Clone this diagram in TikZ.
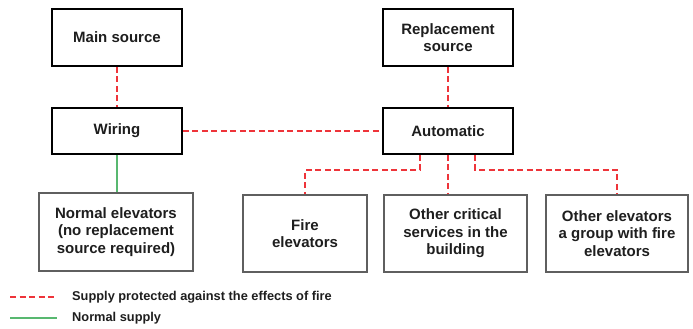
\documentclass[tikz,border=0pt]{standalone}
\usepackage{fontspec}
\setmainfont{Liberation Sans}
\usetikzlibrary{positioning,calc}
\definecolor{fwred}{RGB}{238,52,58}
\definecolor{fwgreen}{RGB}{88,184,112}
\definecolor{fwtext}{RGB}{30,30,30}
\definecolor{fwgray}{RGB}{95,95,95}

\begin{document}
\begin{tikzpicture}[x=1pt, y=-1pt,
  srcbox/.style={draw=black, line width=1.7pt, fill=white, text=fwtext,
    font=\fontsize{15}{17.5}\selectfont\bfseries, align=center, inner sep=0pt},
  loadbox/.style={draw=fwgray, line width=1.2pt, fill=white, text=fwtext,
    font=\fontsize{15}{17.5}\selectfont\bfseries, align=center, inner sep=0pt,
    minimum height=77pt},
  protline/.style={fwred, line width=1.5pt, dash pattern=on 6pt off 3.5pt},
  normline/.style={fwgreen, line width=1.4pt},
  legtext/.style={anchor=west, text=fwtext, font=\fontsize{12.8}{15}\selectfont\bfseries, inner sep=0pt}]
\useasboundingbox (0,0) rectangle (693,329);

% Sources and distribution
\node[srcbox, minimum width=130pt, minimum height=57pt] (main) at (117,37.5) {Main source};
\node[srcbox, minimum width=130pt, minimum height=46pt] (wiring) at (117,131) {Wiring};
\node[srcbox, minimum width=130pt, minimum height=57pt] (repl) at (448,37.5) {Replacement\\source};
\node[srcbox, minimum width=130pt, minimum height=46pt] (auto) at (448,131) {Automatic};

% Loads
\node[loadbox, minimum width=154pt, minimum height=78pt] (normal) at (116,232) {Normal elevators\\(no replacement\\source required)};
\node[loadbox, minimum width=124pt] (fire) at (305,233.5) {Fire\\elevators};
\node[loadbox, minimum width=143pt] (crit) at (455.5,233.5) {Other critical\\services in the\\building};
\node[loadbox, minimum width=142pt] (other) at (617,233.5) {Other elevators\\a group with fire\\elevators};

% Supply lines
\draw[protline] (main) -- (wiring);
\draw[protline] (repl) -- (auto);
\draw[protline] (wiring.east) -- (auto.west);
\draw[normline] (wiring.south) -- (wiring.south |- normal.north);
\draw[protline] ([xshift=-28pt]auto.south) -- ++(0,15) -| (fire.north);
\draw[protline] (auto.south) -- (auto.south |- crit.north);
\draw[protline] ([xshift=27pt]auto.south) -- ++(0,15) -| (other.north);

% Legend
\coordinate (legA1) at (10,297);
\coordinate (legA2) at (57,297);
\coordinate (legB1) at (10,318);
\coordinate (legB2) at (57,318);
\draw[protline] (legA1) -- (legA2);
\draw[normline] (legB1) -- (legB2);
\node[legtext] (legA) at (72,297) {Supply protected against the effects of fire};
\node[legtext] (legB) at (72,318) {Normal supply};

\end{tikzpicture}
\end{document}
